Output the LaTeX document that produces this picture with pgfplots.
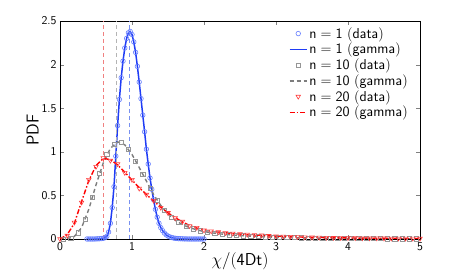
\documentclass[border=0pt]{standalone}
\usepackage{pgfplots}
\pgfplotsset{compat=1.18}
\usepackage{pgfplotstable}
\definecolor{cbline}{HTML}{1F3CF5}
\definecolor{cbdata}{HTML}{647DFF}
\definecolor{cgline}{HTML}{7D7D7D}
\definecolor{cgdata}{HTML}{969696}
\definecolor{crline}{HTML}{FF0000}
\definecolor{crdata}{HTML}{FF3C3C}
\definecolor{cvred}{HTML}{F08080}
\definecolor{cvgray}{HTML}{B4B4B4}
\definecolor{cvblue}{HTML}{7890F0}

\pgfplotstableread{
x y
0.375 0
0.4 0
0.425 0
0.45 0
0.475 0
0.5 0.001
0.525 0.002
0.55 0.003
0.575 0.005
0.6 0.008
0.625 0.015
0.65 0.03
0.675 0.08
0.7 0.18
0.725 0.36
0.75 0.6
0.775 0.95
0.8 1.3
0.825 1.6
0.85 1.85
0.875 2.04
0.9 2.19
0.925 2.30
0.95 2.365
0.975 2.38
1.0 2.345
1.025 2.26
1.05 2.14
1.075 1.98
1.1 1.80
1.125 1.61
1.15 1.42
1.175 1.23
1.2 1.03
1.225 0.86
1.25 0.70
1.275 0.57
1.3 0.45
1.325 0.34
1.35 0.25
1.375 0.18
1.4 0.13
1.425 0.095
1.45 0.068
1.475 0.048
1.5 0.034
1.525 0.024
1.55 0.017
1.575 0.012
1.6 0.008
1.625 0.006
1.65 0.004
1.675 0.003
1.7 0.002
1.725 0.001
1.75 0.001
1.775 0
1.8 0
1.825 0
1.85 0
1.875 0
1.9 0
1.925 0
1.95 0
1.975 0
2.0 0
}\tabone

\pgfplotstableread{
x y
0 0
0.1 0.002
0.2 0.03
0.3 0.13
0.4 0.34
0.5 0.62
0.6 0.87
0.7 1.04
0.8 1.115
0.9 1.08
1.0 0.97
1.1 0.82
1.2 0.665
1.3 0.51
1.4 0.385
1.5 0.285
1.6 0.215
1.7 0.165
1.8 0.13
1.9 0.105
2.0 0.085
2.1 0.072
2.2 0.061
2.3 0.052
2.4 0.045
2.5 0.039
2.75 0.028
3.0 0.02
3.25 0.015
3.5 0.011
3.75 0.008
4.0 0.006
4.5 0.004
5.0 0.002
}\tabtenline

\pgfplotstableread{
x y
0.05 0
0.15 0.01
0.25 0.07
0.35 0.23
0.45 0.48
0.55 0.75
0.65 0.97
0.75 1.09
0.85 1.11
0.95 1.03
1.05 0.89
1.15 0.74
1.25 0.585
1.35 0.445
1.45 0.33
1.55 0.25
1.65 0.19
1.75 0.147
1.85 0.117
1.95 0.095
2.05 0.078
2.15 0.066
2.25 0.056
2.35 0.048
2.45 0.042
2.55 0.037
2.65 0.032
2.75 0.028
2.85 0.025
2.95 0.021
3.05 0.019
3.15 0.017
3.25 0.015
3.35 0.013
3.45 0.012
3.55 0.010
3.65 0.009
3.75 0.008
3.85 0.007
3.95 0.006
4.05 0.006
4.15 0.005
4.25 0.005
4.35 0.004
4.45 0.004
4.55 0.003
4.65 0.003
4.75 0.003
4.85 0.002
4.95 0.002
}\tabtendata

\pgfplotstableread{
x y
0 0
0.1 0.05
0.2 0.18
0.3 0.43
0.4 0.67
0.5 0.84
0.6 0.925
0.7 0.91
0.8 0.85
0.9 0.765
1.0 0.675
1.1 0.59
1.2 0.51
1.3 0.435
1.4 0.365
1.5 0.30
1.6 0.245
1.7 0.195
1.8 0.155
1.9 0.125
2.0 0.105
2.1 0.09
2.2 0.08
2.3 0.071
2.4 0.064
2.5 0.057
2.75 0.044
3.0 0.033
3.25 0.025
3.5 0.019
3.75 0.015
4.0 0.012
4.5 0.008
5.0 0.005
}\tabtwline

\pgfplotstableread{
x y
0 0
0.1 0.04
0.2 0.19
0.3 0.42
0.4 0.68
0.5 0.83
0.6 0.93
0.7 0.90
0.8 0.86
0.9 0.76
1.0 0.68
1.1 0.58
1.2 0.51
1.3 0.44
1.4 0.36
1.5 0.30
1.6 0.24
1.7 0.20
1.8 0.15
1.9 0.13
2.0 0.10
2.1 0.09
2.2 0.08
2.3 0.07
2.4 0.064
2.5 0.058
2.6 0.052
2.7 0.047
2.8 0.042
2.9 0.037
3.0 0.033
3.1 0.030
3.2 0.027
3.3 0.024
3.4 0.021
3.5 0.019
3.6 0.018
3.7 0.016
3.8 0.014
3.9 0.013
4.0 0.012
4.1 0.011
4.2 0.010
4.3 0.009
4.4 0.009
4.5 0.008
4.6 0.007
4.7 0.007
4.8 0.006
4.9 0.006
5.0 0.005
}\tabtwdata

\begin{document}
\begin{tikzpicture}
\begin{axis}[
  at={(0,0)}, anchor=south west,
  scale only axis, width=360bp, height=218bp,
  xmin=0, xmax=5, ymin=0, ymax=2.5,
  xtick={0,1,2,3,4,5},
  ytick={0,0.5,1,1.5,2,2.5},
  xticklabels={$\mathsf{0}$,$\mathsf{1}$,$\mathsf{2}$,$\mathsf{3}$,$\mathsf{4}$,$\mathsf{5}$},
  yticklabels={$\mathsf{0}$,$\mathsf{0.5}$,$\mathsf{1}$,$\mathsf{1.5}$,$\mathsf{2}$,$\mathsf{2.5}$},
  tick align=inside,
  major tick length=4bp,
  ticklabel style={font=\fontsize{12.5}{14}\selectfont},
  xlabel={$\chi\mathsf{/(4Dt)}$},
  ylabel={$\mathsf{PDF}$},
  label style={font=\fontsize{17}{19}\selectfont},
  xlabel style={yshift=5bp},
  ylabel style={yshift=-4bp},
  legend style={draw=none, fill=none, at={(0.975,0.985)}, anchor=north east,
    font=\fontsize{14}{16}\selectfont, row sep=-0.5bp, inner sep=1bp},
  legend cell align=left,
]
\addplot[only marks, mark=o, mark size=2.3bp, draw=cbdata, color=cbdata, mark options={line width=0.6pt, draw=cbdata}] table {\tabone};
\addlegendentry{$\mathsf{n = 1\ (data)}$}
\addplot[draw=cbline, color=cbline, line width=1.5pt] table {\tabone};
\addlegendentry{$\mathsf{n = 1\ (gamma)}$}
\addplot[only marks, mark=square, mark size=2.1bp, draw=cgdata, color=cgdata, mark options={line width=0.6pt, draw=cgdata}] table {\tabtendata};
\addlegendentry{$\mathsf{n = 10\ (data)}$}
\addplot[draw=cgline, color=cgline, line width=1.4pt, dash pattern=on 4bp off 3bp] table {\tabtenline};
\addlegendentry{$\mathsf{n = 10\ (gamma)}$}
\addplot[only marks, mark=triangle, mark size=2.6bp, draw=crdata, color=crdata, mark options={rotate=180, line width=0.6pt, draw=crdata}] table {\tabtwdata};
\addlegendentry{$\mathsf{n = 20\ (data)}$}
\addplot[draw=crline, color=crline, line width=1.4pt, dash pattern=on 5bp off 2bp on 1.5bp off 2bp] table {\tabtwline};
\addlegendentry{$\mathsf{n = 20\ (gamma)}$}
\addplot[draw=cvred, color=cvred, dash pattern=on 4bp off 3bp, line width=0.9pt] coordinates {(0.6,0) (0.6,2.5)};
\addplot[draw=cvgray, color=cvgray, dash pattern=on 4bp off 3bp, line width=0.9pt] coordinates {(0.78,0) (0.78,2.5)};
\addplot[draw=cvblue, color=cvblue, dash pattern=on 4bp off 3bp, line width=0.9pt] coordinates {(0.96,0) (0.96,2.5)};
\end{axis}
\useasboundingbox (-60bp,-40bp) rectangle (403bp,239bp);
\end{tikzpicture}
\end{document}
